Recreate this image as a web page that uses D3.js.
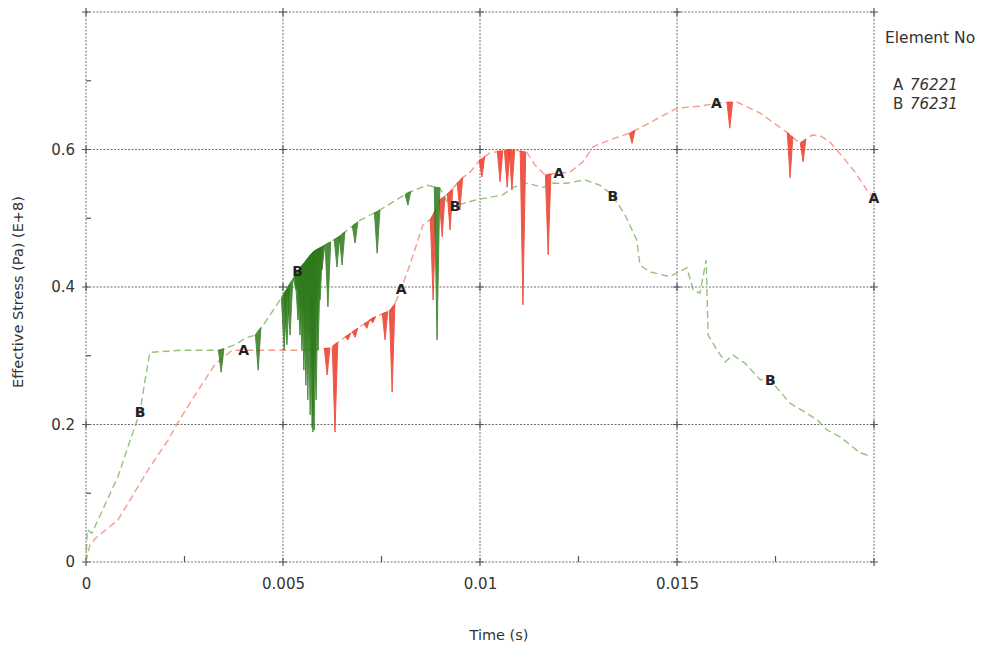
<!DOCTYPE html>
<html>
<head>
<meta charset="utf-8">
<script src="https://cdn.jsdelivr.net/npm/d3@7"></script>
<style>
  html, body { margin: 0; padding: 0; background: #fff; }
  svg { display: block; font-family: "DejaVu Sans", Verdana, sans-serif; }
</style>
</head>
<body>
<svg id="chart" width="994" height="646"></svg>
<script>
// ---------------- DATA ----------------
const xTickValues = [0, 0.005, 0.01, 0.015];
const xTickLabels = ["0", "0.005", "0.01", "0.015"];
const yTickValues = [0, 0.2, 0.4, 0.6];
const yTickLabels = ["0", "0.2", "0.4", "0.6"];
const xGridValues = [0, 0.005, 0.01, 0.015, 0.02];
const yGridValues = [0, 0.2, 0.4, 0.6, 0.8];
const xMinorTicks = [0.0025, 0.0075, 0.0125, 0.0175];
const yMinorTicks = [0.1, 0.3, 0.5, 0.7];

const seriesNames = ["A", "B"];
const seriesIds = ["76221", "76231"];

// Element A 76221 : [time (s), effective stress (E+8 Pa)]
const timeA = [0, 0.0001, 0.00025, 0.00081, 0.00162, 0.00208, 0.00231, 0.00277, 0.00327, 0.00371,
  0.00442, 0.00543, 0.00619, 0.00662, 0.00728, 0.00777, 0.00797, 0.00822, 0.00855, 0.00878,
  0.00898, 0.00924, 0.00949, 0.00975, 0.01, 0.01025, 0.01076, 0.01119, 0.0114, 0.01165,
  0.01203, 0.01228, 0.01261, 0.01287, 0.0133, 0.01381, 0.01431, 0.015, 0.01558, 0.01609,
  0.01652, 0.01711, 0.01779, 0.01812, 0.01843, 0.01863, 0.01888, 0.01921, 0.01952, 0.01982, 0.02];
const stressA = [0, 0.025, 0.035, 0.061, 0.138, 0.177, 0.201, 0.243, 0.287, 0.308,
  0.308, 0.308, 0.311, 0.329, 0.355, 0.367, 0.393, 0.432, 0.49, 0.5,
  0.527, 0.538, 0.556, 0.567, 0.585, 0.595, 0.6, 0.596, 0.577, 0.563,
  0.566, 0.567, 0.582, 0.604, 0.614, 0.624, 0.639, 0.66, 0.663, 0.668,
  0.669, 0.653, 0.625, 0.609, 0.621, 0.62, 0.611, 0.589, 0.567, 0.541, 0.529];
// downward spikes of A: time, lowest stress reached
const spikeTimeA = [0.00612, 0.00632, 0.00665, 0.00683, 0.00713, 0.00728, 0.00759, 0.00777, 0.00881,
  0.00904, 0.00924, 0.00949, 0.01005, 0.01051, 0.01069, 0.01081, 0.01109, 0.01173, 0.01386,
  0.01634, 0.01787, 0.0182];
const spikeLowA = [0.272, 0.189, 0.323, 0.327, 0.34, 0.348, 0.323, 0.247, 0.381,
  0.473, 0.483, 0.512, 0.56, 0.553, 0.545, 0.541, 0.374, 0.447, 0.609,
  0.631, 0.559, 0.582];

// Element B 76231
const timeB = [0, 0.00003, 0.00015, 0.00036, 0.00081, 0.00112, 0.00137, 0.0015, 0.00162, 0.00239,
  0.0034, 0.00378, 0.00406, 0.00429, 0.00454, 0.00497, 0.00536, 0.00576, 0.00637, 0.00695,
  0.00746, 0.00817, 0.00865, 0.00898, 0.00924, 0.00992, 0.01058, 0.01084, 0.01119, 0.0116,
  0.01185, 0.01221, 0.01266, 0.01305, 0.01335, 0.01368, 0.01398, 0.01406, 0.01431, 0.01482,
  0.01525, 0.01541, 0.01558, 0.01574, 0.01579, 0.01602, 0.01622, 0.01642, 0.01673, 0.01711,
  0.01736, 0.01787, 0.01825, 0.01855, 0.01881, 0.01914, 0.01964, 0.0199];
const stressB = [0, 0.047, 0.042, 0.068, 0.124, 0.177, 0.218, 0.265, 0.305, 0.308,
  0.308, 0.316, 0.326, 0.33, 0.348, 0.385, 0.422, 0.451, 0.471, 0.497,
  0.512, 0.537, 0.548, 0.544, 0.516, 0.527, 0.534, 0.545, 0.551, 0.545,
  0.551, 0.551, 0.556, 0.548, 0.534, 0.505, 0.468, 0.432, 0.422, 0.415,
  0.428, 0.396, 0.391, 0.439, 0.33, 0.308, 0.291, 0.301, 0.289, 0.265,
  0.265, 0.231, 0.218, 0.207, 0.192, 0.182, 0.159, 0.154];
const spikeTimeB = [0.00343, 0.00437, 0.00503, 0.0051, 0.00518,
  0.00533, 0.00538, 0.00543, 0.00548, 0.00553, 0.00558, 0.00563, 0.00569, 0.00574, 0.00576,
  0.00579, 0.00584, 0.00589, 0.00594, 0.00599,
  0.00614, 0.00637, 0.0065, 0.00683, 0.00739, 0.00817, 0.00891];
const spikeLowB = [0.276, 0.279, 0.308, 0.316, 0.33,
  0.396, 0.352, 0.33, 0.308, 0.279, 0.257, 0.236, 0.214, 0.195, 0.189,
  0.192, 0.236, 0.308, 0.381, 0.425,
  0.371, 0.429, 0.432, 0.464, 0.449, 0.519, 0.323];

// curve identifier letters drawn along the curves
const markerTimesA = [0.004, 0.008, 0.012, 0.016, 0.02];
const markerTimesB = [0.00137, 0.00537, 0.00937, 0.01337, 0.01737];

// ---------------- CHART ----------------
const svg = d3.select("#chart");
const x = d3.scaleLinear().domain([0, 0.02]).range([86, 874]);
const y = d3.scaleLinear().domain([0, 0.8]).range([562, 12]);
const textColor = "#333";
const gridColor = "#707070";

// grid
const grid = svg.append("g");
grid.selectAll("line.vg").data(xGridValues).join("line")
  .attr("x1", d => x(d)).attr("x2", d => x(d))
  .attr("y1", y(0.8)).attr("y2", y(0))
  .attr("stroke", gridColor).attr("stroke-width", 1).attr("stroke-dasharray", "2,1.5");
grid.selectAll("line.hg").data(yGridValues).join("line")
  .attr("x1", x(0)).attr("x2", x(0.02))
  .attr("y1", d => y(d)).attr("y2", d => y(d))
  .attr("stroke", gridColor).attr("stroke-width", 1).attr("stroke-dasharray", "2,1.5");
// crosses at intersections
const crosses = [];
xGridValues.forEach(a => yGridValues.forEach(b => crosses.push([a, b])));
grid.selectAll("path.cross").data(crosses).join("path")
  .attr("d", d => `M${x(d[0]) - 4},${y(d[1])}h8M${x(d[0])},${y(d[1]) - 4}v8`)
  .attr("stroke", "#555").attr("stroke-width", 1.2);
// minor ticks
grid.selectAll("line.mx").data(xMinorTicks).join("line")
  .attr("x1", d => x(d)).attr("x2", d => x(d))
  .attr("y1", y(0)).attr("y2", y(0) - 6)
  .attr("stroke", "#555").attr("stroke-width", 1.2);
grid.selectAll("line.my").data(yMinorTicks).join("line")
  .attr("x1", x(0)).attr("x2", x(0) + 5)
  .attr("y1", d => y(d)).attr("y2", d => y(d))
  .attr("stroke", "#555").attr("stroke-width", 1.2);

// axes (labels only)
const xAxis = svg.append("g").attr("transform", `translate(0,${y(0)})`)
  .call(d3.axisBottom(x).tickValues(xTickValues).tickSize(0).tickPadding(16)
    .tickFormat((d, i) => xTickLabels[i]));
const yAxis = svg.append("g").attr("transform", `translate(${x(0)},0)`)
  .call(d3.axisLeft(y).tickValues(yTickValues).tickSize(0).tickPadding(11)
    .tickFormat((d, i) => yTickLabels[i]));
[xAxis, yAxis].forEach(g => {
  g.select(".domain").remove();
  g.selectAll("text").attr("font-size", 15).attr("fill", textColor)
    .attr("font-family", "'DejaVu Sans', Verdana, sans-serif");
});

svg.append("text").attr("x", 499).attr("y", 640).attr("text-anchor", "middle")
  .attr("font-size", 14.5).attr("fill", textColor).text("Time (s)");
svg.append("text").attr("transform", "translate(23,292) rotate(-90)")
  .attr("text-anchor", "middle").attr("font-size", 14.5).attr("fill", textColor)
  .text("Effective Stress (Pa) (E+8)");

// curves
function interp(ts, vs, t) {
  if (t <= ts[0]) return vs[0];
  for (let i = 1; i < ts.length; i++) {
    if (t <= ts[i]) {
      const f = (t - ts[i - 1]) / (ts[i] - ts[i - 1]);
      return vs[i - 1] + f * (vs[i] - vs[i - 1]);
    }
  }
  return vs[vs.length - 1];
}
const line = d3.line().x(d => x(d[0])).y(d => y(d[1]));
const halfW = 0.00007;

function drawSeries(ts, vs, sts, slows, lineColor, spikeColor) {
  const g = svg.append("g");
  const pts = ts.map((t, i) => [t, vs[i]]);
  g.append("path").attr("d", line(pts)).attr("fill", "none")
    .attr("stroke", lineColor).attr("stroke-width", 1.4)
    .attr("stroke-dasharray", "7,4").attr("opacity", 0.7);
  const spikes = sts.map((t, i) => [
    [t - halfW, interp(ts, vs, t - halfW)],
    [t, slows[i]],
    [t + halfW, interp(ts, vs, t + halfW)]
  ]);
  g.selectAll("path.spike").data(spikes).join("path")
    .attr("d", d => line(d) + "Z")
    .attr("fill", spikeColor).attr("stroke", spikeColor)
    .attr("stroke-width", 1).attr("opacity", 0.85);
  return g;
}
drawSeries(timeA, stressA, spikeTimeA, spikeLowA, "#f2705e", "#ec3a28");
drawSeries(timeB, stressB, spikeTimeB, spikeLowB, "#6aa845", "#2f7a1c");

// letters along curves
function drawMarkers(times, ts, vs, letter) {
  svg.append("g").selectAll("text").data(times).join("text")
    .attr("x", d => x(d)).attr("y", d => y(interp(ts, vs, d)) + 5)
    .attr("text-anchor", "middle").attr("font-size", 14).attr("font-weight", "bold")
    .attr("fill", "#222").text(letter);
}
drawMarkers(markerTimesA, timeA, stressA, seriesNames[0]);
drawMarkers(markerTimesB, timeB, stressB, seriesNames[1]);

// legend
svg.append("text").attr("x", 885).attr("y", 43).attr("font-size", 15.5)
  .attr("fill", textColor).text("Element No");
const leg = svg.append("g").selectAll("g").data(seriesNames).join("g")
  .attr("transform", (d, i) => `translate(893,${90 + i * 19})`);
leg.append("text").attr("font-size", 15).attr("fill", textColor).text(d => d);
leg.append("text").attr("x", 17).attr("font-size", 15).attr("fill", textColor)
  .attr("font-style", "italic").text((d, i) => seriesIds[i]);
</script>
</body>
</html>
